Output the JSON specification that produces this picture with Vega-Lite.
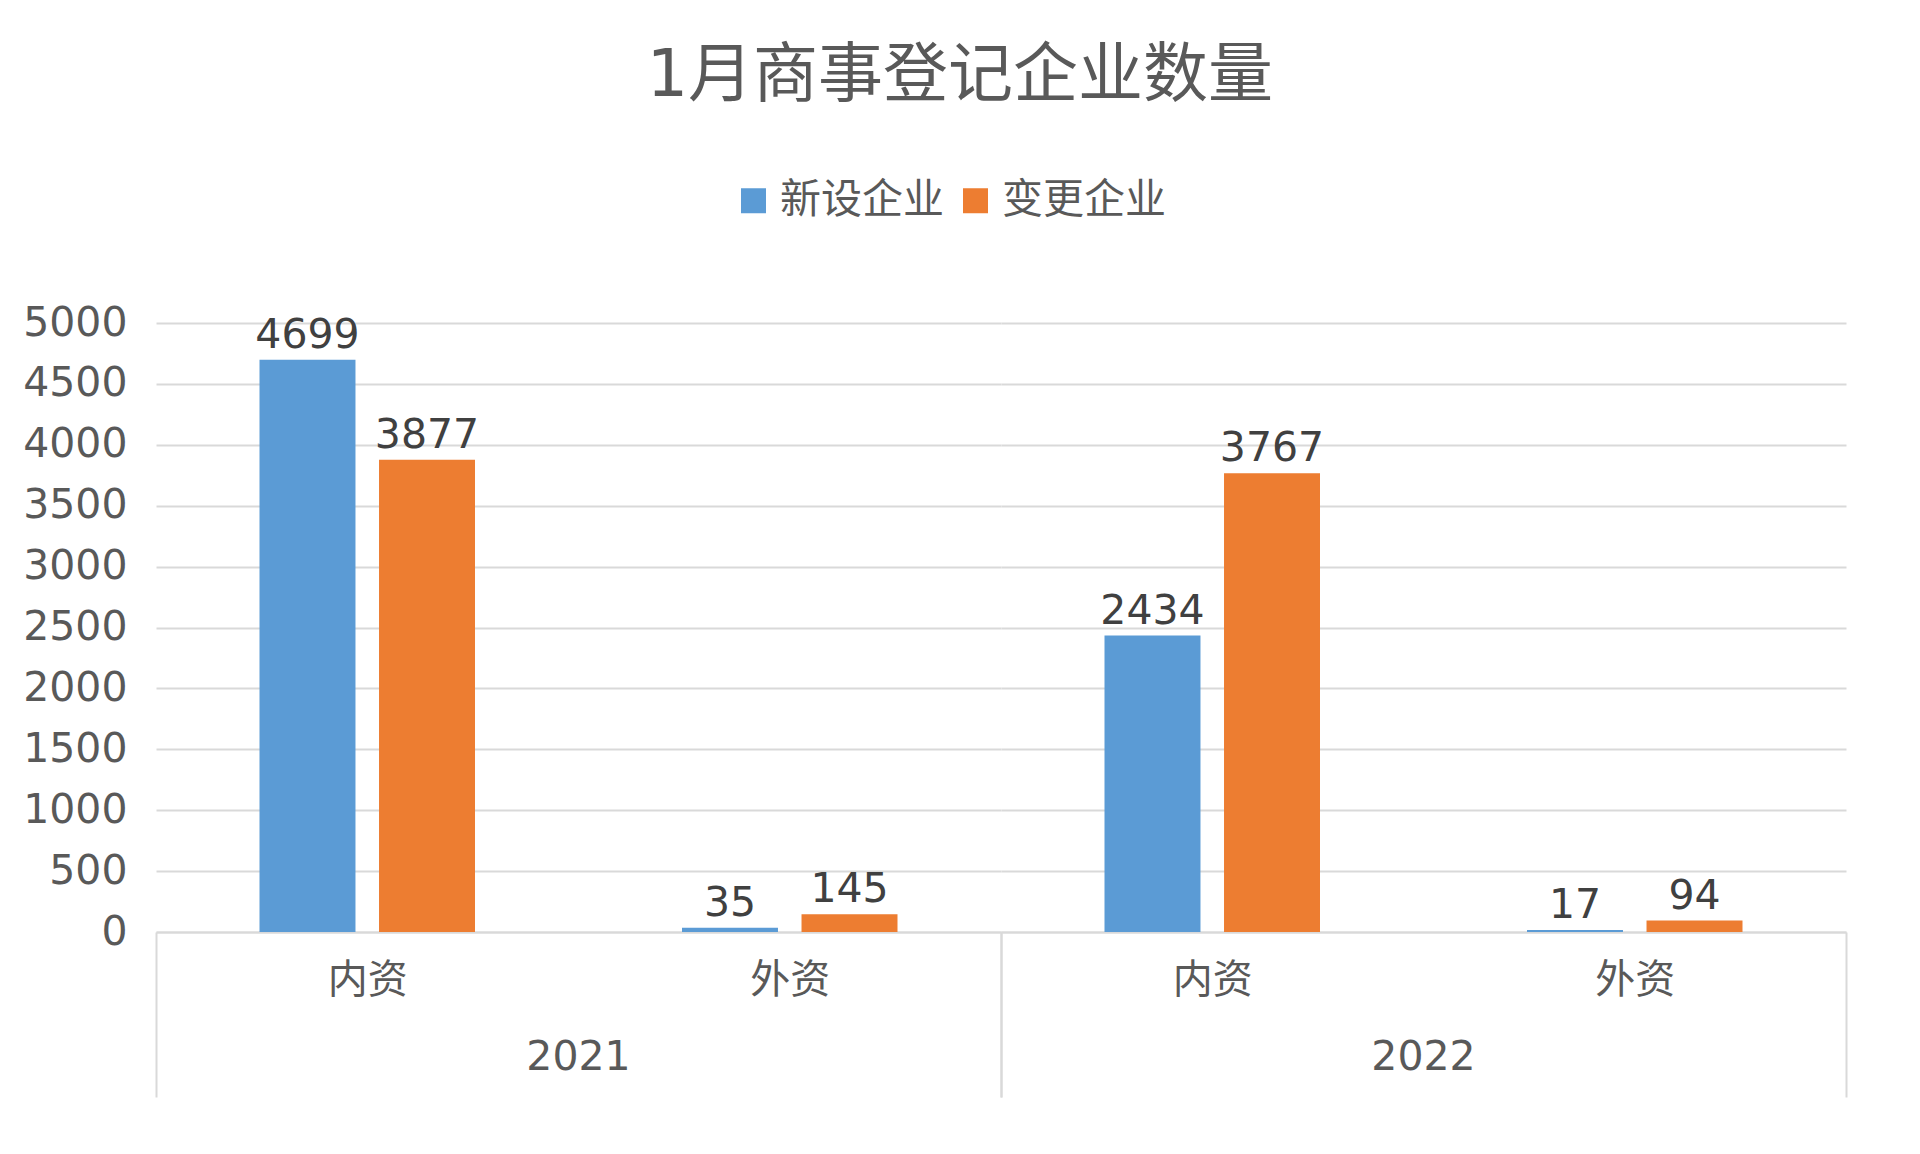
{
  "$schema": "https://vega.github.io/schema/vega-lite/v6.json",
  "background": "white",
  "padding": {"left": 22, "top": 44, "right": 75, "bottom": 0},
  "title": {
    "text": "1月商事登记企业数量",
    "font": "DejaVu Sans, Noto Sans CJK SC",
    "fontSize": 65,
    "fontWeight": "normal",
    "color": "#595959",
    "anchor": "middle",
    "offset": 70,
    "dx": 25
  },
  "data": {
    "values": [
      {"year": "2021", "category": "内资", "series": "新设企业", "value": 4699},
      {"year": "2021", "category": "内资", "series": "变更企业", "value": 3877},
      {"year": "2021", "category": "外资", "series": "新设企业", "value": 35},
      {"year": "2021", "category": "外资", "series": "变更企业", "value": 145},
      {"year": "2022", "category": "内资", "series": "新设企业", "value": 2434},
      {"year": "2022", "category": "内资", "series": "变更企业", "value": 3767},
      {"year": "2022", "category": "外资", "series": "新设企业", "value": 17},
      {"year": "2022", "category": "外资", "series": "变更企业", "value": 94}
    ]
  },
  "facet": {
    "column": {
      "field": "year",
      "type": "ordinal",
      "header": {
        "title": null,
        "labelOrient": "bottom",
        "labelFont": "DejaVu Sans",
        "labelFontSize": 41,
        "labelColor": "#595959",
        "labelPadding": -60
      }
    }
  },
  "spacing": 0,
  "spec": {
    "width": 845,
    "height": 609,
    "encoding": {
      "x": {
        "field": "category",
        "type": "nominal",
        "sort": ["内资", "外资"],
        "scale": {"paddingInner": 0, "paddingOuter": 0},
        "axis": {
          "title": null,
          "labelAngle": 0,
          "labelFont": "Noto Sans CJK SC",
          "labelFontSize": 40,
          "labelColor": "#595959",
          "labelPadding": -137,
          "domainColor": "#d9d9d9",
          "domainWidth": 2,
          "tickBand": "extent",
          "tickSize": 165,
          "tickWidth": 2,
          "tickColor": {
            "condition": {"test": "datum.value === '内资' && !datum.extra", "value": "rgba(0,0,0,0)"},
            "value": "#d9d9d9"
          }
        }
      },
      "xOffset": {
        "field": "series",
        "sort": ["新设企业", "变更企业"],
        "scale": {"paddingInner": 0.197, "paddingOuter": 0.866}
      },
      "y": {
        "field": "value",
        "type": "quantitative",
        "scale": {"domain": [0, 5000]},
        "axis": {
          "title": null,
          "values": [0, 500, 1000, 1500, 2000, 2500, 3000, 3500, 4000, 4500, 5000],
          "format": "d",
          "labelFont": "DejaVu Sans",
          "labelFontSize": 41,
          "labelColor": "#595959",
          "labelPadding": 29,
          "domain": false,
          "ticks": false,
          "gridColor": "#d9d9d9",
          "gridWidth": 2
        }
      }
    },
    "layer": [
      {
        "mark": {"type": "bar"},
        "encoding": {
          "color": {
            "field": "series",
            "type": "nominal",
            "sort": ["新设企业", "变更企业"],
            "scale": {"domain": ["新设企业", "变更企业"], "range": ["#5B9BD5", "#ED7D31"]},
            "legend": {
              "title": null,
              "orient": "none",
              "direction": "horizontal",
              "legendX": 577,
              "legendY": -143,
              "symbolType": "square",
              "symbolSize": 625,
              "symbolStrokeWidth": 0,
              "labelFont": "Noto Sans CJK SC",
              "labelFontSize": 41,
              "labelColor": "#595959",
              "labelLimit": 400,
              "labelOffset": 6,
              "columnPadding": 11
            }
          }
        }
      },
      {
        "mark": {
          "type": "text",
          "baseline": "alphabetic",
          "dy": -12,
          "font": "DejaVu Sans",
          "fontSize": 41,
          "color": "#404040"
        },
        "encoding": {
          "text": {"field": "value", "type": "quantitative"}
        }
      }
    ]
  },
  "config": {
    "view": {"stroke": null}
  }
}
